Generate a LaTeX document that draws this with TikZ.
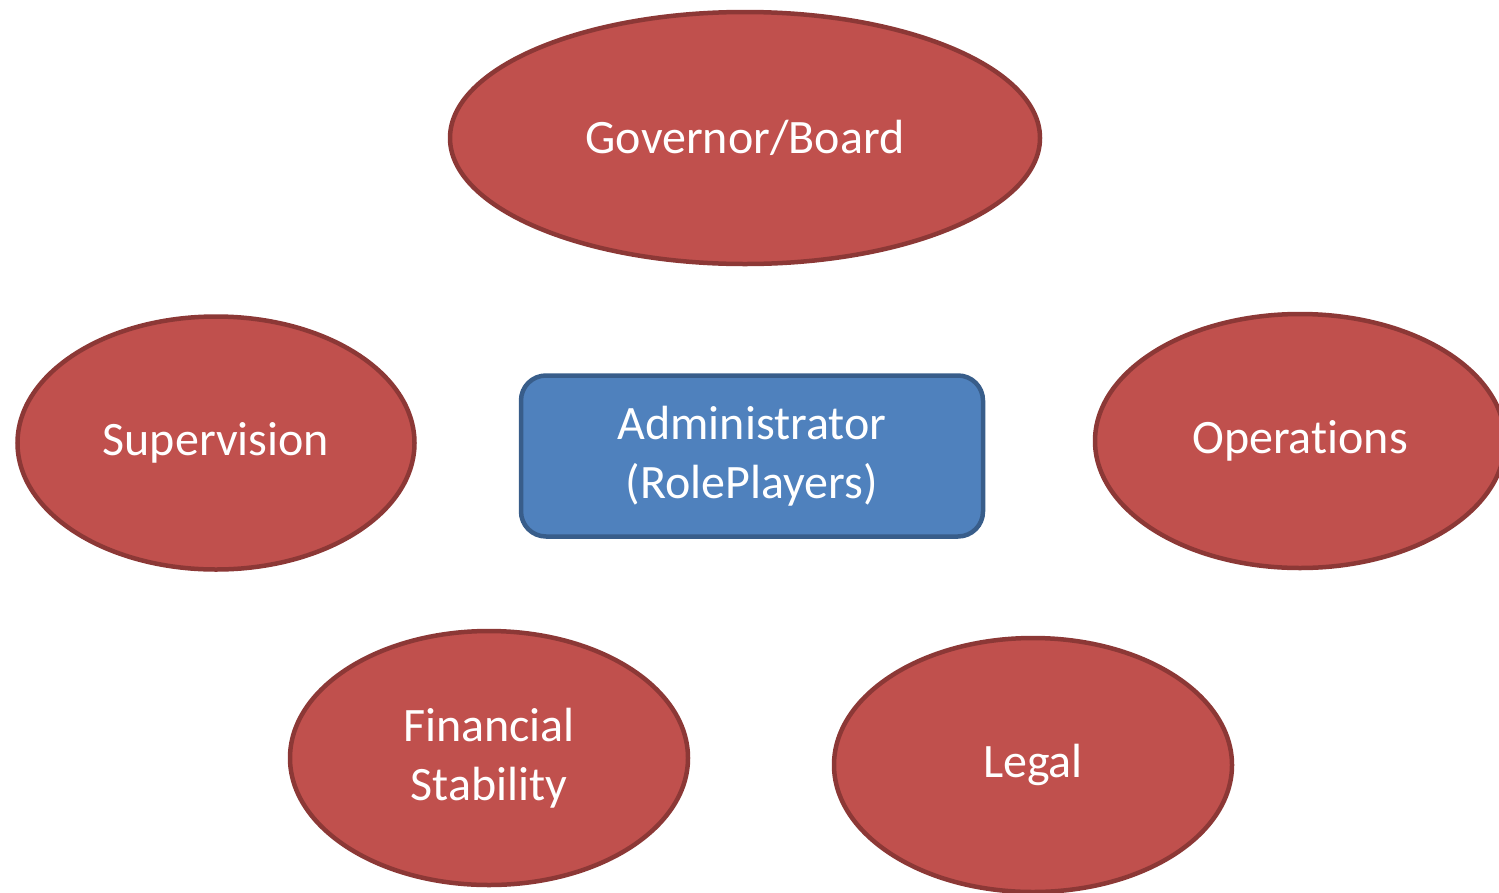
\documentclass[tikz,border=0pt]{standalone}
\usepackage{fontspec}
\setmainfont{Carlito}[Ligatures={NoCommon}]
\usetikzlibrary{shapes.geometric}
\definecolor{rolered}{HTML}{C0504D}
\definecolor{roleredline}{HTML}{8C3836}
\definecolor{adminblue}{HTML}{4F81BD}
\definecolor{adminblueline}{HTML}{385D8A}
\begin{document}
\begin{tikzpicture}[x=1pt,y=-1pt,
    every node/.style={font=\fontsize{48}{58.5}\selectfont,text=white,align=center,inner sep=0pt},
    role/.style={ellipse,fill=rolered,draw=roleredline,line width=4.5pt},
    admin/.style={rectangle,rounded corners=25pt,fill=adminblue,draw=adminblueline,line width=4.5pt,
        minimum width=462pt,minimum height=161pt}]
    % Canvas
    \useasboundingbox (0,0) rectangle (1499,892);

    % Role ellipses
    \node[role,minimum width=590pt,minimum height=252pt] (governor) at (745,138) {Governor/Board};
    \node[role,minimum width=397pt,minimum height=253pt] (supervision) at (216,443) {Supervision};
    \node[role,minimum width=410pt,minimum height=254pt] (operations) at (1300,441) {Operations};
    \node[role,minimum width=398pt,minimum height=254pt] (financial) at (489,758) {Financial\\Stability};
    \node[role,minimum width=398pt,minimum height=254pt] (legal) at (1033,765) {Legal};

    % Centre box
    \node[admin] (administrator) at (752,456) {Administrator\\(RolePlayers)};
\end{tikzpicture}
\end{document}
